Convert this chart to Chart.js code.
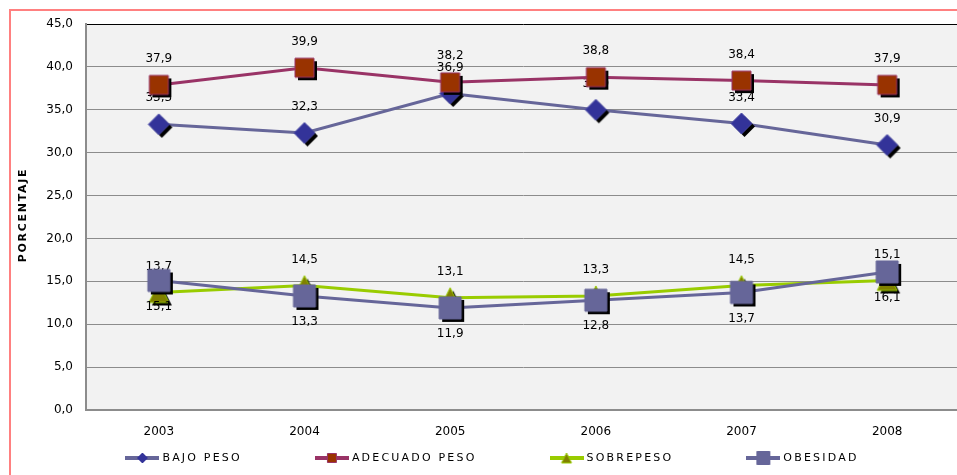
<!DOCTYPE html>
<html>
<head>
<meta charset="utf-8">
<script src="https://cdn.jsdelivr.net/npm/chart.js@4/dist/chart.umd.min.js"></script>
<style>
  html, body { margin: 0; padding: 0; background: #fff; overflow: hidden; }
  #wrap { position: relative; width: 990px; height: 475px; }
</style>
</head>
<body>
<div id="wrap"><canvas id="c"></canvas></div>
<script>
// Estado nutricional por año (porcentaje)
const years = ['2003', '2004', '2005', '2006', '2007', '2008'];
const bajoPeso = [33.3, 32.3, 36.9, 35.0, 33.4, 30.9];
const adecuadoPeso = [37.9, 39.9, 38.2, 38.8, 38.4, 37.9];
const sobrepeso = [13.7, 14.5, 13.1, 13.3, 14.5, 15.1];
const obesidad = [15.1, 13.3, 11.9, 12.8, 13.7, 16.1];
const seriesNames = ['BAJO PESO', 'ADECUADO PESO', 'SOBREPESO', 'OBESIDAD'];
const yMin = 0, yMax = 45, yStep = 5;
const yTitle = 'PORCENTAJE';

const fmt = v => v.toFixed(1).replace('.', ',');

function shapePath(g, shape, cx, cy, s) {
  g.beginPath();
  if (shape === 'diamond') {
    g.moveTo(cx, cy - s); g.lineTo(cx + s, cy); g.lineTo(cx, cy + s); g.lineTo(cx - s, cy);
  } else if (shape === 'square') {
    g.rect(cx - s, cy - s, 2 * s, 2 * s);
  } else {
    g.moveTo(cx, cy - s); g.lineTo(cx + s, cy + s); g.lineTo(cx - s, cy + s);
  }
  g.closePath();
}

// Marker bitmap with a hard drop shadow
function makeMarker(shape, half, fill, stroke, shadow) {
  const size = Math.ceil(2 * (half + shadow + 2));
  const c = document.createElement('canvas');
  c.width = size; c.height = size;
  const g = c.getContext('2d');
  const m = size / 2;
  if (shadow) {
    shapePath(g, shape, m + shadow, m + shadow, half);
    g.fillStyle = '#000'; g.fill();
  }
  shapePath(g, shape, m, m, half);
  g.fillStyle = fill; g.fill();
  g.lineWidth = 1; g.strokeStyle = stroke; g.stroke();
  return c;
}

// Legend swatch: line segment with a small marker in the middle
function makeSwatch(shape, half, fill, stroke, lineColor) {
  const c = document.createElement('canvas');
  c.width = 34; c.height = 16;
  const g = c.getContext('2d');
  g.strokeStyle = lineColor; g.lineWidth = 4;
  g.beginPath(); g.moveTo(0, 8); g.lineTo(34, 8); g.stroke();
  shapePath(g, shape, 17, 8, half);
  g.fillStyle = fill; g.fill();
  g.lineWidth = 1; g.strokeStyle = stroke; g.stroke();
  return c;
}

const styles = [
  { line: '#666699', marker: makeMarker('diamond', 10.5, '#333399', '#4a4aa6', 3), swatch: makeSwatch('diamond', 5, '#333399', '#333399', '#666699'), side: -1, order: 3 },
  { line: '#993366', marker: makeMarker('square', 9.5, '#993300', '#993366', 3),   swatch: makeSwatch('square', 4.5, '#993300', '#993366', '#993366'), side: -1, order: 2 },
  { line: '#99CC00', marker: makeMarker('triangle', 10, '#808000', '#99CC00', 3),  swatch: makeSwatch('triangle', 5, '#808000', '#99CC00', '#99CC00'), side: -1, order: 1 },
  { line: '#666699', marker: makeMarker('square', 11, '#666699', '#666699', 3),    swatch: makeSwatch('square', 6.5, '#666699', '#666699', '#666699'), side: 1, order: 0 }
];
const seriesValues = [bajoPeso, adecuadoPeso, sobrepeso, obesidad];

const datasets = seriesValues.map((vals, i) => ({
  label: seriesNames[i],
  data: vals,
  borderColor: styles[i].line,
  backgroundColor: styles[i].line,
  borderWidth: 3,
  tension: 0,
  pointStyle: styles[i].marker,
  pointRadius: 10,
  pointHoverRadius: 10,
  order: styles[i].order,
  clip: false
}));

// Frame and plot background
const backdrop = {
  id: 'backdrop',
  beforeDraw(chart) {
    const { ctx, chartArea: a } = chart;
    ctx.save();
    ctx.fillStyle = '#ffffff';
    ctx.fillRect(0, 0, chart.width, chart.height);
    ctx.strokeStyle = '#FF8080';
    ctx.lineWidth = 2;
    ctx.strokeRect(10, 10, chart.width + 40, chart.height + 40);
    ctx.fillStyle = '#F2F2F2';
    ctx.fillRect(a.left, a.top, a.right - a.left, a.bottom - a.top);
    ctx.restore();
  }
};

// Value labels, drawn with each series so later markers sit above them
const valueLabels = {
  id: 'valueLabels',
  afterDatasetDraw(chart, args) {
    const { ctx } = chart;
    const i = args.index;
    const ds = chart.data.datasets[i];
    ctx.save();
    ctx.font = '12px "DejaVu Sans"';
    ctx.fillStyle = '#000';
    ctx.textAlign = 'center';
    ctx.textBaseline = 'middle';
    args.meta.data.forEach((pt, j) => {
      ctx.fillText(fmt(ds.data[j]), pt.x, pt.y + styles[i].side * 26);
    });
    ctx.restore();
  }
};

// Rotated axis title and the legend row
const annotations = {
  id: 'annotations',
  afterDraw(chart) {
    const { ctx } = chart;
    ctx.save();
    ctx.font = 'bold 11px "DejaVu Sans"';
    ctx.letterSpacing = '1.7px';
    ctx.fillStyle = '#000';
    ctx.textAlign = 'center';
    ctx.textBaseline = 'middle';
    ctx.translate(23, 215);
    ctx.rotate(-Math.PI / 2);
    ctx.fillText(yTitle, 0, 0);
    ctx.restore();

    ctx.save();
    ctx.font = '11px "DejaVu Sans"';
    ctx.letterSpacing = '2.2px';
    ctx.fillStyle = '#000';
    ctx.textBaseline = 'middle';
    ctx.textAlign = 'left';
    const y = 458;
    const gap = 73;
    const items = chart.data.datasets.map((ds, i) => {
      const tw = ctx.measureText(ds.label).width;
      return { sw: styles[i].swatch, text: ds.label, w: 34 + 3 + tw };
    });
    const total = items.reduce((s, it) => s + it.w, 0) + gap * (items.length - 1);
    let x = 492 - total / 2;
    items.forEach(it => {
      ctx.drawImage(it.sw, x, y - 8);
      ctx.fillText(it.text, x + 37, y);
      x += it.w + gap;
    });
    ctx.restore();
  }
};

new Chart(document.getElementById('c'), {
  type: 'line',
  data: { labels: years, datasets },
  options: {
    responsive: true,
    maintainAspectRatio: false,
    animation: false,
    events: [],
    layout: { padding: { left: 0, right: 30, top: 24, bottom: 0 } },
    plugins: { legend: { display: false }, tooltip: { enabled: false } },
    scales: {
      x: {
        offset: true,
        grid: { display: false, drawTicks: false },
        border: { display: true, color: '#8C8C8C', width: 2 },
        ticks: { font: { family: 'DejaVu Sans', size: 12 }, color: '#000', padding: 15 },
        afterFit(s) { s.height = 65; }
      },
      y: {
        min: yMin,
        max: yMax,
        grid: {
          drawTicks: false,
          color: c => (c.tick && c.tick.value === yMax) ? '#000000' : '#8C8C8C',
          lineWidth: 1
        },
        border: { display: true, color: '#8C8C8C', width: 2 },
        ticks: {
          stepSize: yStep,
          font: { family: 'DejaVu Sans', size: 12 },
          color: '#000',
          padding: 13,
          callback: v => fmt(v)
        },
        afterFit(s) { s.width = 86; }
      }
    }
  },
  plugins: [backdrop, valueLabels, annotations]
});
</script>
</body>
</html>
